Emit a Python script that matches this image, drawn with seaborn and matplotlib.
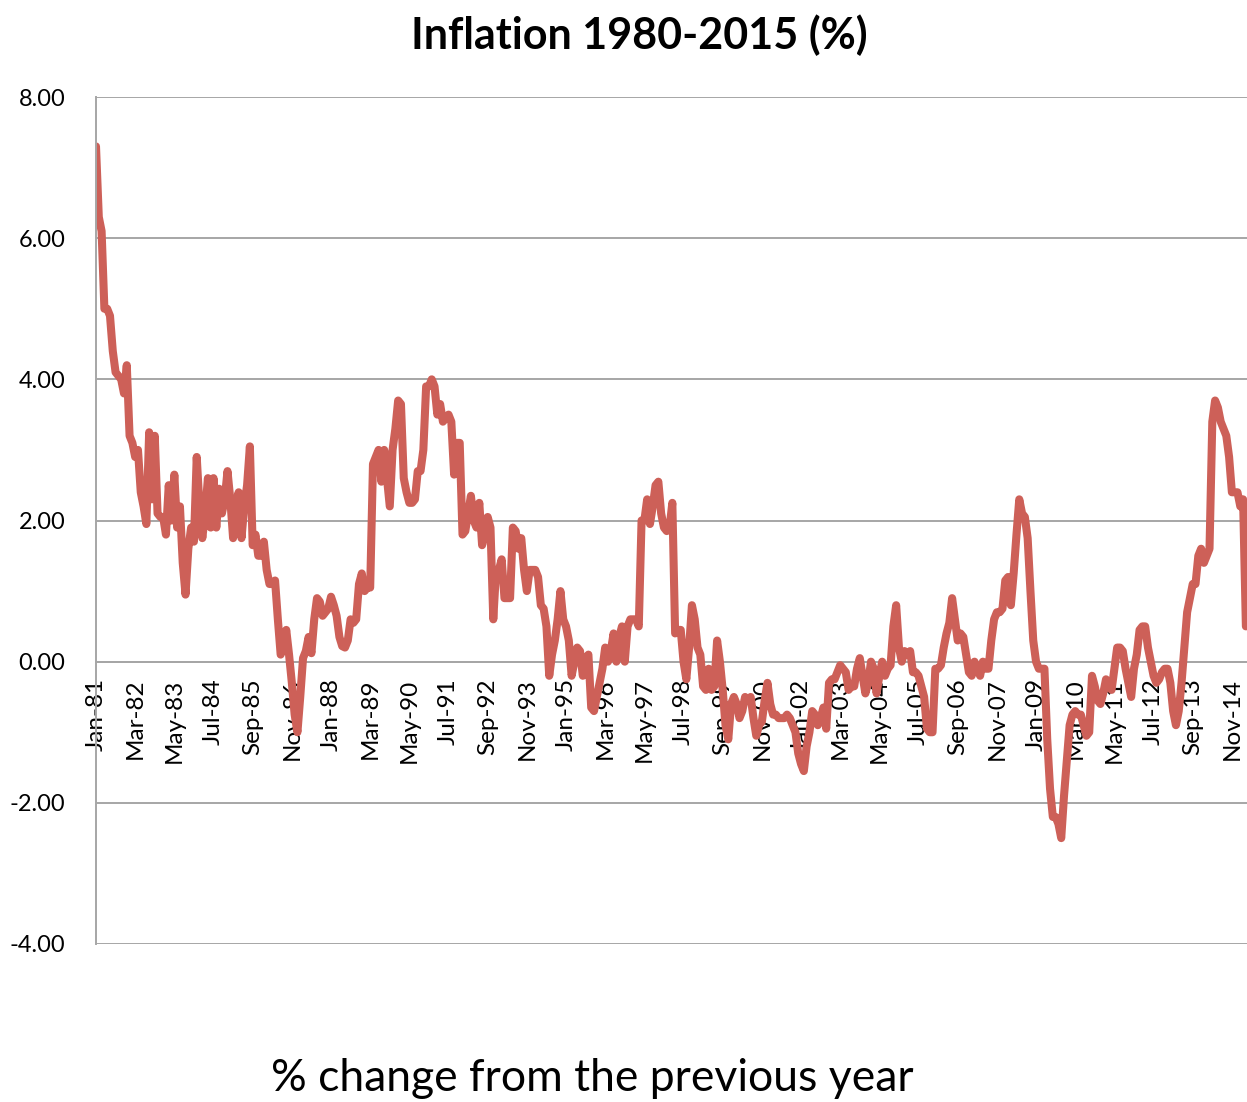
import numpy as np
import pandas as pd
import matplotlib
matplotlib.use("Agg")
import matplotlib.pyplot as plt
import seaborn as sns

# monthly % change from previous year, Jan-81 .. Apr-15
cpi_1980s = [
    7.3, 6.3, 6.1, 5.0, 5.0, 4.9, 4.4, 4.1, 4.05, 4.0, 3.8, 4.2,
    3.2, 3.1, 2.9, 3.0, 2.4, 2.2, 1.95, 3.25, 2.3, 3.2, 2.1, 2.05,
    2.05, 1.8, 2.5, 2.0, 2.65, 1.9, 2.2, 1.4, 0.95, 1.6, 1.9, 1.7,
    2.9, 2.2, 1.75, 2.1, 2.6, 1.9, 2.6, 1.9, 2.45, 2.1, 2.3, 2.7,
    2.3, 1.75, 2.25, 2.4, 1.75, 2.2, 2.5, 3.05, 1.65, 1.8, 1.5, 1.5,
    1.7, 1.3, 1.1, 1.1, 1.15, 0.6, 0.1, 0.2, 0.45, 0.1, -0.3, -0.75,
    -1.0, -0.5, 0.05, 0.15, 0.35, 0.12, 0.6, 0.9, 0.85, 0.65, 0.7, 0.75,
    0.92, 0.8, 0.65, 0.35, 0.22, 0.2, 0.3, 0.6, 0.55, 0.6, 1.1, 1.25,
    1.0, 1.05, 1.05, 2.8, 2.9, 3.0, 2.55, 3.0, 2.6, 2.2, 3.0, 3.3,
]
cpi_1990s = [
    3.7, 3.65, 2.6, 2.4, 2.25, 2.25, 2.3, 2.7, 2.7, 3.0, 3.9, 3.9,
    4.0, 3.9, 3.5, 3.65, 3.4, 3.45, 3.5, 3.4, 2.65, 3.1, 3.1, 1.8,
    1.85, 2.1, 2.35, 2.0, 1.9, 2.25, 1.65, 1.8, 2.05, 1.9, 0.6, 1.3,
    1.3, 1.45, 0.9, 0.9, 0.9, 1.9, 1.85, 1.6, 1.75, 1.3, 1.0, 1.3,
    1.3, 1.3, 1.2, 0.8, 0.75, 0.5, -0.2, 0.1, 0.3, 0.6, 1.0, 0.6,
    0.5, 0.3, -0.2, 0.0, 0.2, 0.15, -0.2, 0.05, 0.1, -0.65, -0.7, -0.5,
    -0.3, -0.1, 0.2, 0.0, 0.15, 0.4, 0.0, 0.35, 0.5, 0.0, 0.5, 0.6,
    0.6, 0.6, 0.5, 2.0, 2.0, 2.3, 1.95, 2.2, 2.5, 2.55, 2.1, 1.9,
    1.85, 1.9, 2.25, 0.4, 0.45, 0.45, 0.0, -0.25, 0.2, 0.8, 0.6, 0.2,
    0.1, -0.35, -0.4, -0.1, -0.4, -0.35, 0.3, 0.0, -0.4, -0.9, -1.1, -0.6,
]
cpi_2000s = [
    -0.5, -0.6, -0.8, -0.7, -0.5, -0.55, -0.5, -0.8, -1.05, -0.9, -0.85, -0.55,
    -0.3, -0.6, -0.75, -0.75, -0.8, -0.8, -0.8, -0.75, -0.8, -0.9, -1.0, -1.3,
    -1.45, -1.55, -1.2, -1.0, -0.7, -0.75, -0.9, -0.8, -0.65, -0.95, -0.3, -0.25,
    -0.25, -0.15, -0.05, -0.1, -0.15, -0.4, -0.35, -0.35, -0.1, 0.05, -0.2, -0.45,
    -0.3, 0.0, -0.1, -0.45, -0.2, 0.0, -0.2, -0.1, -0.05, 0.5, 0.8, 0.2,
    0.0, 0.15, 0.1, 0.15, -0.15, -0.15, -0.2, -0.35, -0.5, -0.95, -1.0, -1.0,
    -0.1, -0.1, -0.05, 0.2, 0.4, 0.55, 0.9, 0.6, 0.3, 0.4, 0.35, 0.1,
    -0.15, -0.2, 0.0, -0.1, -0.2, 0.0, -0.1, -0.1, 0.3, 0.6, 0.7, 0.7,
    0.75, 1.15, 1.2, 0.8, 1.25, 1.8, 2.3, 2.1, 2.05, 1.75, 1.0, 0.3,
    0.0, -0.1, -0.1, -0.1, -1.1, -1.8, -2.2, -2.2, -2.3, -2.5, -1.9, -1.4,
]
cpi_2010s = [
    -0.9, -0.75, -0.7, -0.75, -0.75, -0.9, -1.05, -1.0, -0.2, -0.35, -0.55, -0.6,
    -0.45, -0.25, -0.35, -0.4, -0.1, 0.2, 0.2, 0.15, -0.1, -0.3, -0.5, -0.1,
    0.1, 0.45, 0.5, 0.5, 0.2, 0.0, -0.2, -0.3, -0.25, -0.15, -0.1, -0.1,
    -0.3, -0.7, -0.9, -0.7, -0.3, 0.2, 0.7, 0.9, 1.1, 1.1, 1.5, 1.6,
    1.4, 1.5, 1.6, 3.4, 3.7, 3.6, 3.4, 3.3, 3.2, 2.9, 2.4, 2.4,
    2.4, 2.2, 2.3, 0.5,
]

tick_labels = ['Jan-81', 'Mar-82', 'May-83', 'Jul-84', 'Sep-85', 'Nov-86',
               'Jan-88', 'Mar-89', 'May-90', 'Jul-91', 'Sep-92', 'Nov-93',
               'Jan-95', 'Mar-96', 'May-97', 'Jul-98', 'Sep-99', 'Nov-00',
               'Jan-02', 'Mar-03', 'May-04', 'Jul-05', 'Sep-06', 'Nov-07',
               'Jan-09', 'Mar-10', 'May-11', 'Jul-12', 'Sep-13', 'Nov-14']
y_ticks = [8, 6, 4, 2, 0, -2, -4]

values = cpi_1980s + cpi_1990s + cpi_2000s + cpi_2010s
months = pd.date_range('1981-01-01', periods=len(values), freq='MS').strftime('%b-%y')
df = pd.DataFrame({'pos': np.arange(len(values)), 'month': months, 'cpi': values})
tick_pos = [list(months).index(t) for t in tick_labels]

sns.set_style('white')
plt.rcParams['font.family'] = ['Lato', 'DejaVu Sans']
plt.rcParams['text.color'] = 'black'

fig = plt.figure(figsize=(12.47, 11.02), dpi=100)
ax = fig.add_axes([96 / 1247, 1 - 944 / 1102, 1 - 96 / 1247, (944 - 97) / 1102])

sns.lineplot(data=df, x='pos', y='cpi', ax=ax, color='#CD6058', linewidth=5.8)

# x axis crosses at zero (set before ticks, this resets them)
for side in ['top', 'right']:
    ax.spines[side].set_visible(False)
ax.spines['bottom'].set_position(('data', 0))
ax.spines['bottom'].set_color('#A6A6A6')
ax.spines['bottom'].set_linewidth(1.4)
ax.spines['bottom'].set_zorder(0.6)
ax.spines['left'].set_color('#A6A6A6')
ax.spines['left'].set_linewidth(1.4)

ax.set_xlim(0, len(values) - 0.6)
ax.set_ylim(-4, 8)
ax.set_yticks(y_ticks)
ax.set_yticklabels([f'{v:.2f}' for v in y_ticks])
ax.set_xticks(tick_pos)
ax.set_xticklabels(tick_labels)
ax.tick_params(axis='both', length=0, colors='black')
ax.tick_params(axis='y', pad=22, labelsize=17)
ax.tick_params(axis='x', pad=12, labelsize=17.5, labelrotation=90)
for lab in ax.get_xticklabels():
    lab.set_va('top')
    lab.set_ha('center')

ax.set_axisbelow(True)
ax.yaxis.grid(True, color='#A6A6A6', linewidth=1.4)
ax.xaxis.grid(False)
ax.set_xlabel('')
ax.set_ylabel('')

fig.text(0.513, 0.968, 'Inflation 1980-2015 (%)', ha='center', va='center',
         fontsize=31, fontweight='bold', color='black')
fig.text(0.475, 0.021, '% change from the previous year', ha='center', va='center',
         fontsize=32, color='black')

fig.savefig('out.png', dpi=100)
